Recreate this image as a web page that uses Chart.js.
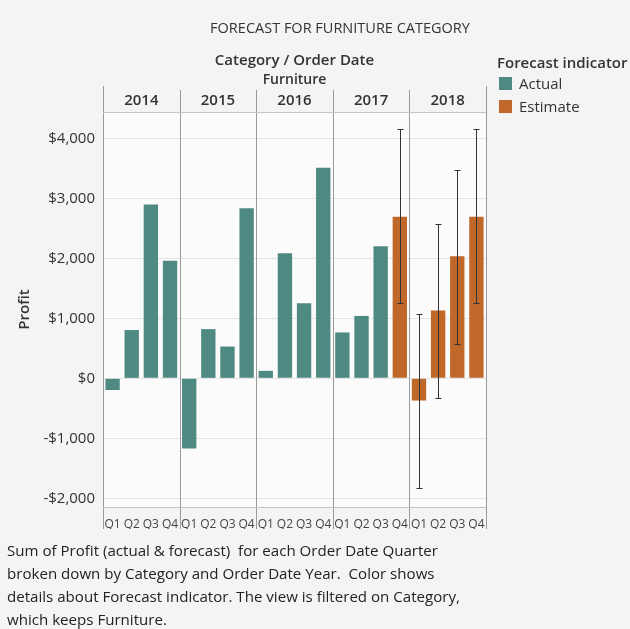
<!DOCTYPE html>
<html>
<head>
<meta charset="utf-8">
<script src="https://cdn.jsdelivr.net/npm/chart.js@4"></script>
<style>
    html, body { margin: 0; padding: 0; }
    body { width: 630px; height: 629px; background: #f4f4f4; font-family: "Open Sans", "Noto Sans", sans-serif; color: #333; overflow: hidden; }
    #wrap { position: relative; width: 630px; height: 629px; }
    #chart { position: absolute; left: 0; top: 0; }
    .txt { position: absolute; white-space: nowrap; }
    #title { left: 0; width: 680px; top: 18px; text-align: center; font-size: 14.5px; color: #333; }
    #legend { left: 497px; top: 52px; font-size: 15px; }
    #legend .head { font-weight: 600; color: #333; }
    #legend .item { position: relative; padding-left: 22px; height: 23px; line-height: 23px; }
    #legend .sw { position: absolute; left: 2px; top: 5px; width: 13px; height: 13px; }
    #caption { left: 7px; top: 539px; font-size: 15.1px; line-height: 23px; color: #222; }
</style>
</head>
<body>
<div id="wrap">
    <canvas id="chart" width="630" height="629"></canvas>
    <div class="txt" id="title">FORECAST FOR FURNITURE CATEGORY</div>
    <div class="txt" id="legend">
        <div class="head">Forecast indicator</div>
        <div class="item"><span class="sw" style="background:#4e8a82"></span>Actual</div>
        <div class="item"><span class="sw" style="background:#c0672a"></span>Estimate</div>
    </div>
    <div class="txt" id="caption">
        Sum of Profit (actual &amp; forecast)&nbsp; for each Order Date Quarter<br>
        broken down by Category and Order Date Year.&nbsp; Color shows<br>
        details about Forecast indicator. The view is filtered on Category,<br>
        which keeps Furniture.
    </div>
</div>
<script>
    // dados
    var years = ['2014', '2015', '2016', '2017', '2018'];
    var quarters = ['Q1', 'Q2', 'Q3', 'Q4'];
    var labels = ['Q1', 'Q2', 'Q3', 'Q4', 'Q1', 'Q2', 'Q3', 'Q4', 'Q1', 'Q2', 'Q3', 'Q4',
                  'Q1', 'Q2', 'Q3', 'Q4', 'Q1', 'Q2', 'Q3', 'Q4'];
    var actual = [-195, 805, 2900, 1960, -1170, 820, 530, 2835, 125, 2085, 1250, 3510,
                  765, 1040, 2200, null, null, null, null, null];
    var estimate = [null, null, null, null, null, null, null, null, null, null, null, null,
                    null, null, null, 2695, -370, 1130, 2035, 2695];
    var errHigh = [null, null, null, null, null, null, null, null, null, null, null, null,
                   null, null, null, 4150, 1070, 2565, 3470, 4150];
    var errLow = [null, null, null, null, null, null, null, null, null, null, null, null,
                  null, null, null, 1255, -1830, -320, 570, 1255];
    var yTicks = [-2000, -1000, 0, 1000, 2000, 3000, 4000];

    var colors = { actual: '#4e8a82', estimate: '#c0672a' };
    var font = '"Open Sans", "Noto Sans", sans-serif';

    /**
     * Desenha cabeçalho de anos, divisórias e barras de erro
     */
    var decoPlugin = {
        id: 'deco',
        beforeDraw: function (chart) {
            var ctx = chart.ctx;
            var a = chart.chartArea;
            ctx.save();
            ctx.fillStyle = '#fbfbfb';
            ctx.fillRect(a.left, a.top, a.right - a.left, a.bottom - a.top);
            ctx.restore();
        },
        afterDraw: function (chart) {
            var ctx = chart.ctx;
            var a = chart.chartArea;
            var x = chart.scales.x;
            var y = chart.scales.y;
            var slot = (a.right - a.left) / labels.length;
            ctx.save();

            // textos do cabeçalho
            ctx.fillStyle = '#333';
            ctx.textAlign = 'center';
            ctx.textBaseline = 'middle';
            ctx.font = '600 15px ' + font;
            ctx.fillText('Category / Order Date', (a.left + a.right) / 2, 61);
            ctx.font = '600 14px ' + font;
            ctx.fillText('Furniture', (a.left + a.right) / 2, 80);
            ctx.font = '600 15px ' + font;
            years.forEach(function (yr, i) {
                var cx = a.left + slot * quarters.length * (i + 0.5);
                ctx.fillText(yr, cx, 101);
            });

            // linhas
            ctx.strokeStyle = '#9a9a9a';
            ctx.lineWidth = 1;
            ctx.beginPath();
            ctx.moveTo(a.left + 0.5, 86);
            ctx.lineTo(a.left + 0.5, a.bottom + 22);
            ctx.moveTo(a.right + 0.5, 86);
            ctx.lineTo(a.right + 0.5, a.bottom + 22);
            for (var i = 1; i < years.length; i++) {
                var px = Math.round(a.left + slot * quarters.length * i) + 0.5;
                ctx.moveTo(px, 90);
                ctx.lineTo(px, a.bottom + 22);
            }
            ctx.stroke();
            ctx.strokeStyle = '#c4c4c4';
            ctx.beginPath();
            ctx.moveTo(a.left, a.top + 0.5);
            ctx.lineTo(a.right, a.top + 0.5);
            ctx.moveTo(a.left, a.bottom + 0.5);
            ctx.lineTo(a.right, a.bottom + 0.5);
            ctx.stroke();

            // barras de erro
            ctx.strokeStyle = '#333';
            ctx.lineWidth = 1;
            ctx.beginPath();
            for (var j = 0; j < labels.length; j++) {
                if (errHigh[j] === null) continue;
                var ex = Math.round(x.getPixelForValue(j)) + 0.5;
                var yt = Math.round(y.getPixelForValue(errHigh[j])) + 0.5;
                var yb = Math.round(y.getPixelForValue(errLow[j])) + 0.5;
                ctx.moveTo(ex, yt);
                ctx.lineTo(ex, yb);
                ctx.moveTo(ex - 3, yt);
                ctx.lineTo(ex + 3, yt);
                ctx.moveTo(ex - 3, yb);
                ctx.lineTo(ex + 3, yb);
            }
            ctx.stroke();
            ctx.restore();
        }
    };

    var chart = new Chart(document.getElementById('chart'), {
        type: 'bar',
        data: {
            labels: labels,
            datasets: [{
                label: 'Actual',
                data: actual,
                backgroundColor: colors.actual,
                grouped: false,
                categoryPercentage: 1,
                barPercentage: 0.75
            }, {
                label: 'Estimate',
                data: estimate,
                backgroundColor: colors.estimate,
                grouped: false,
                categoryPercentage: 1,
                barPercentage: 0.75
            }]
        },
        options: {
            responsive: false,
            animation: false,
            layout: {
                padding: { left: 0, top: 112, right: 144, bottom: 100 }
            },
            plugins: {
                legend: { display: false },
                tooltip: { enabled: false }
            },
            scales: {
                x: {
                    grid: { display: false },
                    border: { display: false },
                    ticks: {
                        color: '#444',
                        font: { family: font, size: 12 },
                        maxRotation: 0,
                        autoSkip: false,
                        padding: 2
                    },
                    afterFit: function (scale) { scale.height = 22; }
                },
                y: {
                    min: -2145,
                    max: 4440,
                    afterFit: function (scale) { scale.width = 103; },
                    afterBuildTicks: function (scale) {
                        scale.ticks = yTicks.map(function (v) { return { value: v }; });
                    },
                    grid: { color: '#e4e4e4', drawTicks: false },
                    border: { display: false },
                    title: {
                        display: true,
                        text: 'Profit',
                        color: '#333',
                        font: { family: font, size: 15, weight: '600' },
                        padding: { top: 16, bottom: 0 }
                    },
                    ticks: {
                        color: '#333',
                        font: { family: font, size: 15 },
                        padding: 8,
                        callback: function (v) {
                            var s = '$' + Math.abs(v).toLocaleString('en-US');
                            return v < 0 ? '-' + s : s;
                        }
                    }
                }
            }
        },
        plugins: [decoPlugin]
    });
</script>
</body>
</html>
